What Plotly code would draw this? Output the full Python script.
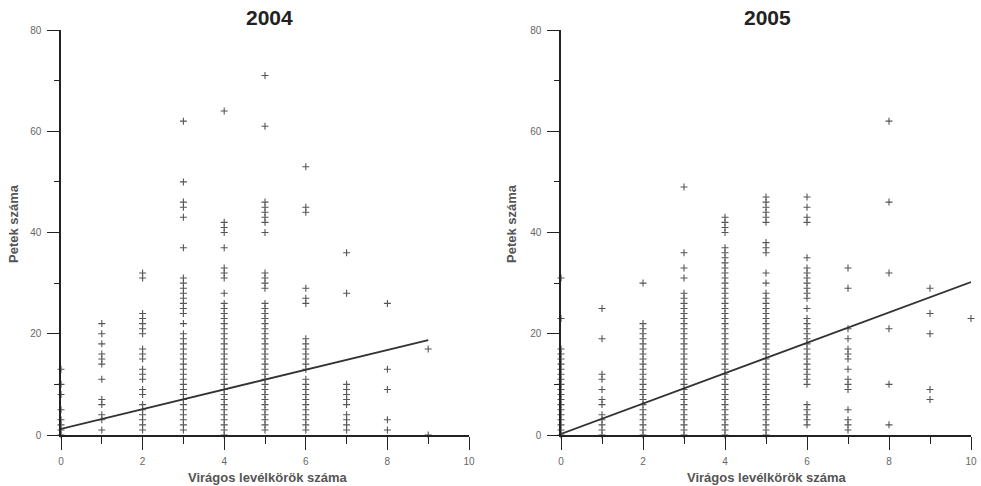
import plotly.graph_objects as go

# ---- 2004: egg counts (y) for each number of flowering whorls (x) ----
y04_c0 = [0, 1, 2, 3, 5, 8, 10, 13]
y04_c1 = [1, 3, 4, 6, 7, 11, 14, 15, 16, 18, 20, 22]
y04_c2 = [1, 2, 3, 4, 5, 6, 8, 9, 11, 12, 13, 15, 16, 17, 20, 21, 22, 23, 24, 31, 32]
y04_c3 = [1, 2, 3, 4, 5, 6, 7, 8, 9, 10, 11, 12, 13, 14, 15, 16, 17, 18, 19, 20,
          22, 24, 25, 26, 27, 28, 29, 30, 31, 37, 43, 45, 46, 50, 62]
y04_c4 = [0, 1, 2, 3, 4, 5, 6, 7, 8, 9, 10, 11, 12, 13, 14, 15, 16, 17, 18, 19, 20,
          21, 22, 23, 24, 25, 26, 28, 31, 32, 33, 37, 40, 41, 42, 64]
y04_c5 = [1, 2, 3, 4, 5, 6, 7, 8, 9, 10, 11, 12, 13, 14, 15, 16, 17, 18, 19, 20,
          21, 22, 23, 24, 25, 26, 29, 30, 31, 32, 40, 42, 43, 44, 45, 46, 61, 71]
y04_c6 = [1, 2, 3, 4, 5, 6, 7, 8, 9, 10, 11, 13, 14, 15, 16, 17, 18, 19, 26, 27,
          29, 44, 45, 53]
y04_c7 = [1, 2, 3, 4, 6, 7, 8, 9, 10, 28, 36]
y04_c8 = [1, 3, 9, 13, 26]
y04_c9 = [0, 17]
cols_2004 = [y04_c0, y04_c1, y04_c2, y04_c3, y04_c4, y04_c5, y04_c6, y04_c7, y04_c8, y04_c9]

# ---- 2005 ----
y05_c0 = [0, 1, 2, 3, 4, 5, 6, 7, 8, 9, 10, 11, 12, 13, 14, 15, 16, 17, 23, 31]
y05_c1 = [0, 1, 2, 3, 4, 6, 7, 9, 11, 12, 19, 25]
y05_c2 = [0, 1, 2, 3, 4, 5, 6, 7, 8, 9, 10, 11, 12, 13, 14, 15, 16, 17, 18, 19,
          20, 21, 22, 30]
y05_c3 = [0, 1, 2, 3, 4, 5, 6, 7, 8, 9, 10, 11, 12, 13, 14, 15, 16, 17, 18, 19,
          20, 21, 22, 23, 24, 25, 26, 27, 28, 31, 33, 36, 49]
y05_c4 = [0, 1, 2, 3, 4, 5, 6, 7, 8, 9, 10, 11, 12, 13, 14, 15, 16, 17, 18, 19,
          20, 21, 22, 23, 24, 25, 26, 27, 28, 29, 30, 31, 32, 33, 34, 35, 36, 37,
          40, 41, 42, 43]
y05_c5 = [0, 1, 2, 3, 4, 5, 6, 7, 8, 9, 10, 11, 12, 13, 14, 15, 16, 17, 18, 19,
          20, 21, 22, 23, 24, 25, 26, 27, 28, 30, 32, 36, 37, 38, 42, 43, 44, 45,
          46, 47]
y05_c6 = [2, 3, 4, 5, 6, 10, 11, 12, 13, 14, 15, 16, 17, 18, 19, 20, 21, 22, 23,
          25, 27, 28, 29, 30, 31, 32, 33, 35, 42, 43, 45, 47]
y05_c7 = [1, 2, 3, 5, 9, 10, 11, 13, 15, 16, 17, 19, 21, 29, 33]
y05_c8 = [2, 10, 21, 32, 46, 62]
y05_c9 = [7, 9, 20, 24, 29]
y05_c10 = [23]
cols_2005 = [y05_c0, y05_c1, y05_c2, y05_c3, y05_c4, y05_c5, y05_c6, y05_c7,
             y05_c8, y05_c9, y05_c10]

# regression lines: (intercept, slope, x from, x to)
fit_2004 = (1.2, 1.95, 0, 9)
fit_2005 = (0.2, 3.0, 0, 10)

titles = ["2004", "2005"]
x_title = "Virágos levélkörök száma"
y_title = "Petek száma"

FONT = "Liberation Sans, Arial, sans-serif"
FW, FH = 981, 486


def px(x):
    return x / FW


def py(y):
    return 1 - y / FH


def flatten(cols):
    xs, ys = [], []
    for i, c in enumerate(cols):
        xs += [i] * len(c)
        ys += c
    return xs, ys


fig = go.Figure()
for k, (cols, fit) in enumerate([(cols_2004, fit_2004), (cols_2005, fit_2005)]):
    xa = "x" if k == 0 else "x2"
    ya = "y" if k == 0 else "y2"
    xs, ys = flatten(cols)
    fig.add_trace(go.Scatter(
        x=xs, y=ys, mode="markers", xaxis=xa, yaxis=ya, cliponaxis=False,
        marker=dict(symbol="cross-thin", size=5, line=dict(width=1.1, color="#555")),
        showlegend=False))
    b0, b1, x0, x1 = fit
    fig.add_trace(go.Scatter(
        x=[x0, x1], y=[b0 + b1 * x0, b0 + b1 * x1], mode="lines",
        xaxis=xa, yaxis=ya, cliponaxis=False,
        line=dict(color="#333", width=1.8), showlegend=False))

ydom = [py(435), py(30)]
xdoms = [[px(61), px(469)], [px(561), px(971)]]

axis_common = dict(showline=True, linecolor="#222", linewidth=1.5, showgrid=False,
                   zeroline=False, ticks="outside", tickcolor="#222", tickwidth=1.3,
                   automargin=False, ticklabeloverflow="allow",
                   tickfont=dict(family=FONT, size=10, color="#666"))

layout = dict(width=FW, height=FH, margin=dict(l=0, r=0, t=0, b=0, autoexpand=False),
              paper_bgcolor="white", plot_bgcolor="white", showlegend=False)

for k in range(2):
    sx = "" if k == 0 else "2"
    layout["xaxis" + sx] = dict(axis_common, domain=xdoms[k], range=[0, 10],
                                dtick=2, tick0=0, ticklen=13, ticklabelstandoff=3,
                                minor=dict(dtick=1, ticks="outside", ticklen=7,
                                           tickcolor="#222", tickwidth=1.3),
                                anchor="y" + sx)
    layout["yaxis" + sx] = dict(axis_common, domain=ydom, range=[0, 80],
                                dtick=20, tick0=0, ticklen=12, ticklabelstandoff=4,
                                minor=dict(dtick=10, ticks="outside", ticklen=5,
                                           tickcolor="#222", tickwidth=1.3),
                                anchor="x" + sx)

fig.update_layout(**layout)

annots = []
for k in range(2):
    annots.append(dict(text="<b>" + titles[k] + "</b>", x=px([269, 767][k]), y=py(18),
                       xref="paper", yref="paper", showarrow=False,
                       font=dict(family=FONT, size=21, color="#222"),
                       xanchor="center", yanchor="middle"))
    annots.append(dict(text="<b>" + x_title + "</b>", x=px([268, 767][k]), y=py(477),
                       xref="paper", yref="paper", showarrow=False,
                       font=dict(family=FONT, size=13, color="#555"),
                       xanchor="center", yanchor="middle"))
    annots.append(dict(text="<b>" + y_title + "</b>", x=px([13, 511][k]), y=py(224),
                       xref="paper", yref="paper", showarrow=False, textangle=-90,
                       font=dict(family=FONT, size=13, color="#555"),
                       xanchor="center", yanchor="middle"))
fig.update_layout(annotations=annots)

# remove the default page margin so the figure fills the window exactly
fig.write_html("out.html", config={"displayModeBar": False},
               post_script="document.body.style.margin='0';document.body.style.overflow='hidden';")
